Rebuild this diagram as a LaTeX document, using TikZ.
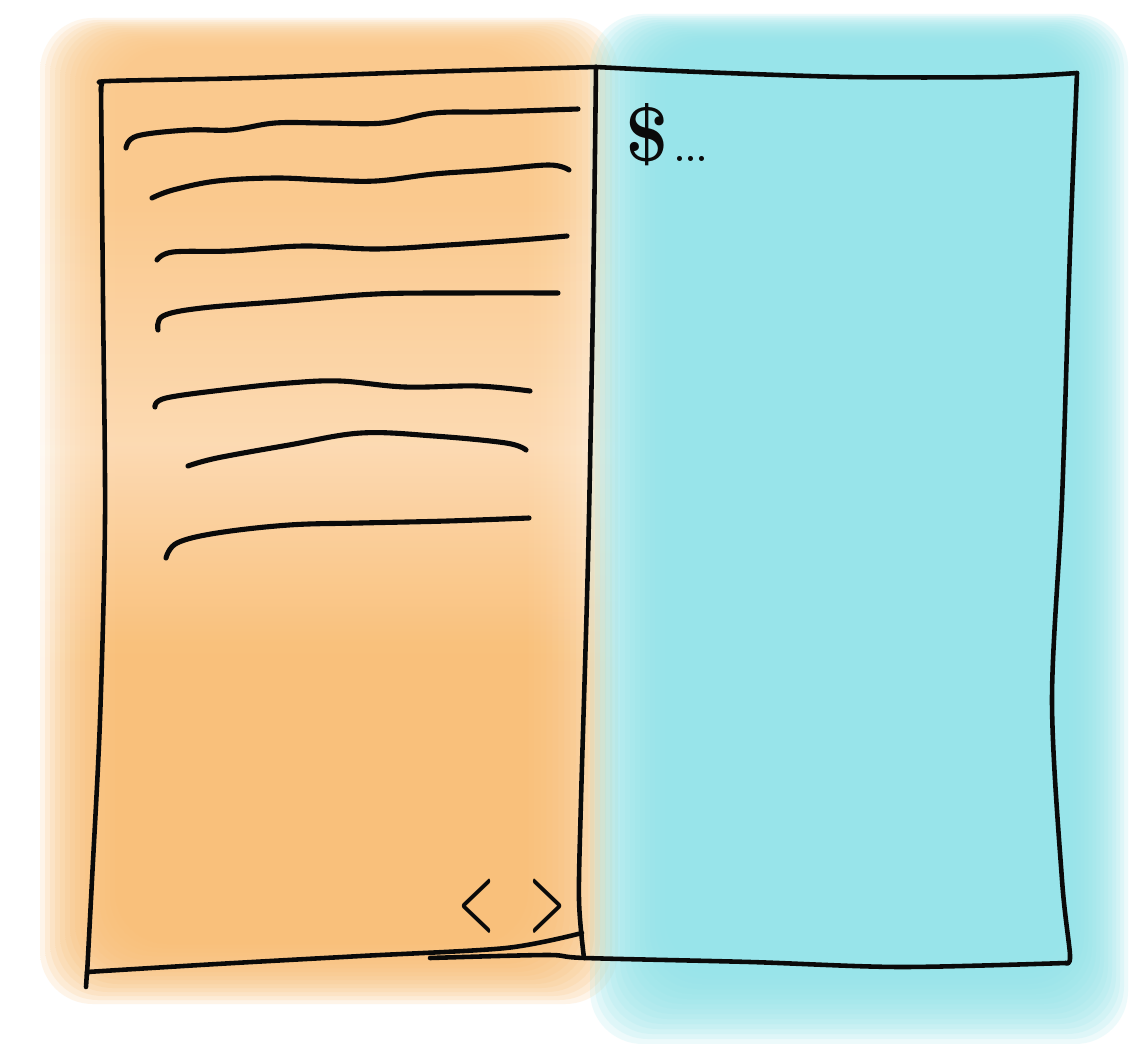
\documentclass[tikz,border=0pt]{standalone}
\definecolor{OrangeDeep}{HTML}{F9BF76}
\definecolor{OrangeLight}{HTML}{FCDAB0}
\definecolor{OrangeMid}{HTML}{FAC98A}
\definecolor{WashCyan}{HTML}{94E4EA}
\definecolor{Ink}{HTML}{0A0A0A}
\pgfdeclareverticalshading{orangewash}{100bp}{color(0bp)=(OrangeDeep); color(42bp)=(OrangeDeep); color(53bp)=(OrangeLight); color(66bp)=(OrangeMid); color(100bp)=(OrangeMid)}

\begin{document}
\begin{tikzpicture}[
  x=0.02cm, y=-0.02cm,
  pen/.style={draw=Ink, line width=2.6pt, line cap=round, line join=round},
  scribble/.style={pen, line width=2.9pt},
  wash/.style={opacity=0.16, rounded corners=30pt},
  hand/.style={text=Ink, inner sep=0pt, font=\bfseries}
]
  \useasboundingbox[fill=white] (0,0) rectangle (1133,1044);

  \foreach \k in {0,...,15}{
    \shade[wash, shading=orangewash] (40+\k*5, 18+\k*2) rectangle (618-\k*6, 1004-\k*4);
  }
  \foreach \k in {0,...,15}{
    \fill[wash, fill=WashCyan] (590+\k*5, 14+\k*2) rectangle (1128-\k*4, 1044-\k*5);
  }

  \draw[scribble] plot[smooth, tension=0.6] coordinates {(126,148) (137,136) (188,130) (231,130) (275,123) (325,123) (383,123) (434,113) (491,112) (549,110) (578,109)};
  \draw[scribble] plot[smooth, tension=0.6] coordinates {(152,198) (173,190) (217,181) (275,178) (325,180) (376,181) (434,174) (491,170) (549,165) (569,170)};
  \draw[scribble] plot[smooth, tension=0.6] coordinates {(157,260) (173,252) (231,251) (303,246) (376,249) (448,245) (520,240) (567,236)};
  \draw[scribble] plot[smooth, tension=0.6] coordinates {(158,330) (163,316) (202,308) (289,301) (376,294) (462,293) (558,293)};
  \draw[scribble] plot[smooth, tension=0.6] coordinates {(155,407) (166,398) (231,389) (289,383) (340,381) (405,387) (477,386) (530,391)};
  \draw[scribble] plot[smooth, tension=0.6] coordinates {(188,466) (217,458) (289,445) (361,433) (434,436) (506,443) (526,450)};
  \draw[scribble] plot[smooth, tension=0.6] coordinates {(166,558) (177,543) (217,533) (289,525) (361,523) (448,521) (529,518)};

  \draw[pen] plot[smooth, tension=0.5] coordinates {(101,92) (102,84) (110,81) (250,78) (420,72) (596,67)};
  \draw[pen] plot[smooth, tension=0.5] coordinates {(101,87) (103,300) (105,520) (100,720) (92,880) (87,975)};
  \draw[pen] (86,987) -- (87,972);
  \draw[pen] plot[smooth, tension=0.5] coordinates {(87,972) (217,964) (361,956) (506,948) (582,933)};
  \draw[pen] plot[smooth, tension=0.5] coordinates {(596,67) (593,300) (588,560) (581,800) (579,900) (584,958)};
  \draw[pen] plot[smooth, tension=0.5] coordinates {(596,67) (700,72) (850,77) (1000,77) (1077,73)};
  \draw[pen] plot[smooth, tension=0.5] coordinates {(1077,73) (1070,250) (1062,500) (1052,700) (1062,880) (1070,955) (1066,963)};
  \draw[pen] plot[smooth, tension=0.5] coordinates {(1066,963) (900,967) (750,962) (585,958) (547,955) (430,958)};

  \node[hand, anchor=base west] (prompt) at (625,162)
    {{\fontsize{44}{48}\selectfont\$}\hspace{3pt}{\fontsize{20}{22}\selectfont...}};
  \node[hand] (code) at (512,906)
    {\scalebox{0.5}[1]{\fontsize{46}{50}\selectfont<\hspace{0.85em}>}};
\end{tikzpicture}
\end{document}
